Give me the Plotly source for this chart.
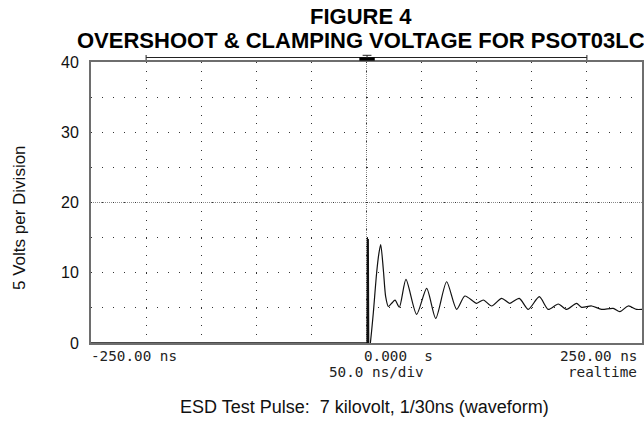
import plotly.graph_objects as go

# ---- data ----
time_ns = [-250, 0, 0.5, 0.8, 1.2, 1.6, 2.0, 3.2, 4.5, 6.2, 9.2, 11.3, 12.9, 15.3, 17.4,
           19.8, 22.8, 25.9, 29.8, 35.8, 45.5, 54.6, 62.8, 72.7, 81.8, 89.3, 99.9,
           106, 113.6, 122.6, 130, 138.6, 146.8, 156.8, 164.9, 174, 181.6, 190.6,
           195.2, 204.3, 213.3, 223.9, 229.9, 237.5, 245, 250]
volts = [0, 0, 0, 15, -1, 14.8, -1.5, -0.5, 1.5, 4.3, 10, 12.8, 14.0, 10.4, 6.6,
         5.2, 5.65, 6.1, 5.1, 9.06, 4.08, 7.78, 3.5, 8.72, 4.79, 6.69, 5.65,
         6.12, 5.27, 6.36, 5.65, 6.36, 4.79, 6.59, 4.79, 5.55, 4.79, 5.65,
         5.08, 5.27, 4.79, 4.93, 4.46, 5.27, 4.79, 4.79]
spike_end = 7  # index where the fast ESD spike ends and the ringing starts

y_ticks = [0, 5, 10, 15, 20, 25, 30, 35, 40]
y_ticktext = ["0", "", "10", "", "20", "", "30", "", "40"]
x_grid = [-250, -200, -150, -100, -50, 0, 50, 100, 150, 200, 250]

title_1 = "FIGURE 4"
title_2 = "OVERSHOOT & CLAMPING VOLTAGE FOR PSOT03LC"
y_title = "5 Volts per Division"
caption = "ESD Test Pulse:\u00a0 7 kilovolt, 1/30ns (waveform)"

W, H = 644, 432
L, R, T, B = 91, 2, 62, 89
PW, PH = W - L - R, H - T - B

def py(pix):
    return (H - B - pix) / PH

def px(pix):
    return (pix - L) / PW

fig = go.Figure()
fig.add_trace(go.Scatter(x=time_ns[:spike_end + 1], y=volts[:spike_end + 1], mode="lines",
                         line=dict(color="#111111", width=1.3),
                         hoverinfo="skip", showlegend=False))
fig.add_trace(go.Scatter(x=time_ns[spike_end:], y=volts[spike_end:], mode="lines",
                         line=dict(color="#111111", width=1.2, shape="spline", smoothing=0.7),
                         hoverinfo="skip", showlegend=False))

mono = dict(family="DejaVu Sans Mono", size=14.3, color="#222222")
sans = "Liberation Sans, Arial, sans-serif"

ann = [
    dict(text=f"<b>{title_1}</b>", x=px(361), y=py(17), xref="paper", yref="paper",
         showarrow=False, font=dict(family=sans, size=22, color="black"),
         xanchor="center", yanchor="middle"),
    dict(text=f"<b>{title_2}</b>", x=px(361), y=py(40), xref="paper", yref="paper",
         showarrow=False, font=dict(family=sans, size=22, color="black"),
         xanchor="center", yanchor="middle"),
    dict(text=y_title, x=px(19), y=py(218), xref="paper", yref="paper",
         showarrow=False, textangle=-90, font=dict(family=sans, size=17, color="#111"),
         xanchor="center", yanchor="middle"),
    dict(text=caption, x=px(364), y=py(407), xref="paper", yref="paper",
         showarrow=False, font=dict(family=sans, size=18, color="#111"),
         xanchor="center", yanchor="middle"),
    dict(text="-250.00 ns", x=px(89), y=py(356), xref="paper", yref="paper",
         showarrow=False, font=mono, xanchor="left", yanchor="middle"),
    dict(text="0.000\u00a0 s", x=px(362), y=py(356), xref="paper", yref="paper",
         showarrow=False, font=mono, xanchor="left", yanchor="middle"),
    dict(text="250.00 ns", x=px(639), y=py(356), xref="paper", yref="paper",
         showarrow=False, font=mono, xanchor="right", yanchor="middle"),
    dict(text="50.0 ns/div", x=px(376), y=py(372), xref="paper", yref="paper",
         showarrow=False, font=mono, xanchor="center", yanchor="middle"),
    dict(text="realtime", x=px(639), y=py(372), xref="paper", yref="paper",
         showarrow=False, font=mono, xanchor="right", yanchor="middle"),
]

shapes = [
    # dense centre lines
    dict(type="line", xref="x", yref="y", x0=0, x1=0, y0=0, y1=40,
         line=dict(color="#8a8a8a", width=1, dash="1px,1px"), layer="below"),
    dict(type="line", xref="x", yref="y", x0=-250, x1=250, y0=20, y1=20,
         line=dict(color="#8a8a8a", width=1, dash="1px,1px"), layer="below"),
    # top range bar
    dict(type="line", xref="x", yref="paper", x0=-200, x1=200, y0=py(57.5), y1=py(57.5),
         line=dict(color="#222", width=1)),
    dict(type="line", xref="x", yref="paper", x0=-200, x1=-200, y0=py(55), y1=py(60),
         line=dict(color="#222", width=1)),
    dict(type="line", xref="x", yref="paper", x0=200, x1=200, y0=py(55), y1=py(60),
         line=dict(color="#222", width=1)),
    # trigger marker
    dict(type="rect", xref="x", yref="paper", x0=-6.5, x1=7.5, y0=py(60.7), y1=py(57.3),
         fillcolor="black", line=dict(width=0)),
    dict(type="line", xref="x", yref="paper", x0=-3.5, x1=4.5, y0=py(55.3), y1=py(55.3),
         line=dict(color="#222", width=1)),
    dict(type="line", xref="x", yref="paper", x0=0.5, x1=0.5, y0=py(55.3), y1=py(58),
         line=dict(color="#222", width=1)),
]

fig.update_layout(
    width=W, height=H, margin=dict(l=L, r=R, t=T, b=B, autoexpand=False),
    paper_bgcolor="white", plot_bgcolor="white",
    annotations=ann, shapes=shapes, showlegend=False,
    xaxis=dict(range=[-250, 250], tickvals=x_grid, showticklabels=False, ticks="",
               showgrid=True, gridcolor="#333333", gridwidth=1, griddash="1px,7.78px",
               zeroline=False, showline=True, linecolor="#6e6e6e", linewidth=2,
               mirror=True, fixedrange=True),
    yaxis=dict(range=[0, 40], tickvals=y_ticks, ticktext=y_ticktext, ticks="",
               tickfont=dict(family=sans, size=16, color="#111"), ticklabelstandoff=7,
               showgrid=True, gridcolor="#333333", gridwidth=1, griddash="1px,10.02px",
               zeroline=False, showline=True, linecolor="#6e6e6e", linewidth=2,
               mirror=True, fixedrange=True),
)

fig.write_html(
    "out.html",
    config={"displayModeBar": False},
    post_script="document.body.style.margin='0';document.body.style.overflow='hidden';",
)
